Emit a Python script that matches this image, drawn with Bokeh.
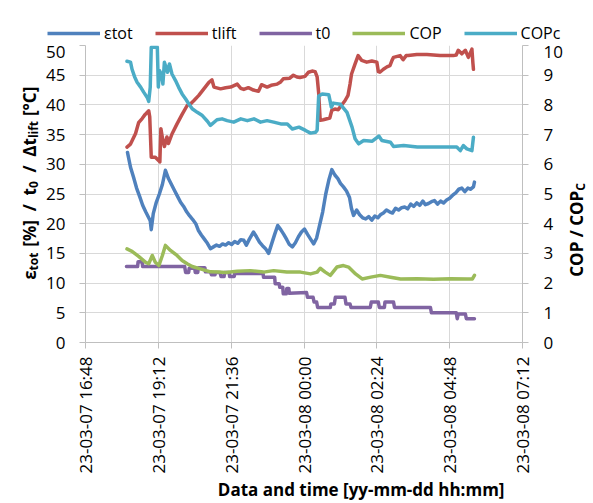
from math import pi
import pandas as pd
from bokeh.plotting import figure
from bokeh.layouts import column, row
from bokeh.models import Range1d, LinearAxis, FixedTicker, Legend, LegendItem, Label
from bokeh.embed import file_html
from bokeh.resources import INLINE

# ---------------- data ----------------
tick_times = ["2023-03-07 16:48", "2023-03-07 19:12", "2023-03-07 21:36", "2023-03-08 00:00",
              "2023-03-08 02:24", "2023-03-08 04:48", "2023-03-08 07:12"]
tick_labels = ["23-03-07 16:48", "23-03-07 19:12", "23-03-07 21:36", "23-03-08 00:00",
               "23-03-08 02:24", "23-03-08 04:48", "23-03-08 07:12"]
left_ticks = [0, 5, 10, 15, 20, 25, 30, 35, 40, 45, 50]
right_ticks = [0, 1, 2, 3, 4, 5, 6, 7, 8, 9, 10]
series_names = ["εtot", "tlift", "t0", "COP", "COPc"]
series_colors = ["#4F81BD", "#C0504D", "#8064A2", "#9BBB59", "#4BACC6"]

eps_time = ["18:11","18:17","18:23","18:29","18:35","18:41","18:47","18:53","18:56","18:58","19:02","19:08",
            "19:14","19:20","19:26","19:32","19:38","19:44","19:50","19:56","20:02","20:08","20:14","20:20",
            "20:26","20:31","20:37","20:43","20:49","20:55","21:01","21:07","21:13","21:19","21:25","21:31",
            "21:37","21:43","21:49","21:55","22:01","22:06","22:12","22:20","22:26","22:32","22:38","22:44",
            "22:50","22:56","23:02","23:08","23:14","23:20","23:26","23:31","23:37","23:43","23:49","23:55",
            "00:01","00:07","00:13","00:19","00:25","00:31","00:37","00:43","00:49","00:55","01:01","01:07",
            "01:12","01:18","01:24","01:30","01:34","01:38","01:44","01:50","01:56","02:02","02:08","02:14",
            "02:20","02:26","02:31","02:37","02:43","02:49","02:55","03:01","03:07","03:13","03:19","03:25",
            "03:31","03:37","03:43","03:49","03:55","04:00","04:06","04:12","04:18","04:24","04:30","04:36",
            "04:42","04:48","04:54","05:00","05:06","05:12","05:18","05:24","05:29","05:35","05:37"]
eps_val = [32.0,29.5,27.8,26.0,24.6,23.1,22.0,21.0,20.5,19.0,21.7,23.6,
           25.0,26.6,29.0,27.6,26.6,25.6,24.6,23.6,22.9,22.0,21.3,20.7,
           20.0,18.9,18.1,17.4,16.7,15.8,16.1,16.4,16.2,16.6,16.4,16.8,
           16.5,17.0,16.7,17.3,17.2,16.4,17.4,18.6,17.8,16.9,16.3,15.8,
           15.0,16.6,18.2,19.7,19.0,18.2,17.3,16.5,16.1,16.8,17.8,18.6,
           19.1,18.2,17.4,16.6,17.6,19.8,22.0,25.0,27.3,29.1,28.2,27.6,
           26.8,26.2,25.5,24.4,22.5,21.4,22.3,21.5,21.0,20.8,21.2,20.6,
           21.3,21.0,21.5,21.8,22.3,22.0,21.8,22.6,22.3,22.7,22.8,22.5,
           23.3,22.9,23.5,23.1,23.8,23.2,23.4,23.7,23.9,23.3,23.8,23.5,
           24.0,24.3,24.8,25.2,25.8,26.0,25.4,26.0,25.8,26.2,27.0]

tlift_time = ["18:10","18:17","18:27","18:33","18:40","18:46","18:53","18:55","18:58","19:06","19:13","19:15",
              "19:17","19:21","19:24","19:29","19:32","19:39","19:49","19:59","20:09","20:16","20:22","20:32",
              "20:42","20:52","20:58","21:02","21:15","21:25","21:35","21:48","21:55","22:01","22:10","22:20",
              "22:30","22:36","22:47","22:55","23:07","23:13","23:19","23:32","23:39","23:46","23:52","00:02",
              "00:09","00:16","00:22","00:26","00:29","00:32","00:38","00:51","00:55","01:01","01:08","01:11",
              "01:21","01:27","01:31","01:34","01:41","01:47","01:54","02:04","02:14","02:24","02:27","02:30",
              "02:37","02:44","02:50","02:54","02:57","03:10","03:16","03:22","03:26","03:43","04:03","04:29",
              "04:55","05:01","05:05","05:12","05:19","05:25","05:32","05:34","05:35"]
tlift_val = [32.9,33.4,35.2,37.0,37.7,38.4,39.0,38.0,31.2,31.2,30.6,30.4,
             36.0,34.0,33.0,34.6,33.5,35.1,36.8,38.4,39.9,40.2,40.7,41.6,
             42.7,43.8,44.2,43.0,42.7,42.9,43.0,43.5,42.8,42.6,42.9,42.5,
             42.3,43.4,43.0,43.3,43.5,43.8,44.4,44.5,45.0,44.7,44.6,44.8,
             45.5,45.7,45.6,44.7,42.0,37.4,37.5,37.8,39.1,39.3,39.2,39.6,
             40.7,41.6,43.5,45.2,46.9,48.3,47.5,47.2,47.4,47.2,45.6,45.5,
             46.0,46.4,46.6,47.5,48.0,48.3,47.6,48.3,48.3,48.5,48.5,48.3,
             48.3,48.4,49.2,48.6,49.2,48.0,49.4,47.0,46.0]

t0_time = ["18:09","18:31","18:32","18:40","18:41","20:04","20:06","20:12","20:13","20:24","20:25","20:30",
           "20:31","20:44","20:45","20:55","20:57","21:04","21:05","21:14","21:16","21:22","21:23","21:32",
           "21:33","21:42","21:43","22:39","22:40","23:02","23:03","23:11","23:12","23:18","23:19","23:25",
           "23:26","23:30","23:31","00:05","00:07","00:18","00:20","00:25","00:27","00:52","00:53","01:00",
           "01:02","01:21","01:23","01:31","01:33","02:11","02:13","02:27","02:29","02:39","02:40","02:57",
           "02:59","04:10","04:12","05:01","05:03","05:05","05:19","05:21","05:37"]
t0_val = [12.8,12.8,13.6,13.6,12.8,12.8,11.8,11.8,12.5,12.5,11.8,11.8,
          12.6,12.6,11.9,11.9,11.4,11.4,11.8,11.8,11.1,11.1,11.8,11.8,
          11.1,11.1,11.6,11.6,11.0,11.0,9.9,9.9,9.3,9.3,8.2,8.2,
          9.1,9.1,8.3,8.4,7.6,7.6,6.8,6.8,5.9,5.9,6.5,6.5,
          7.6,7.6,6.5,6.5,5.9,5.9,6.8,6.8,5.9,5.9,6.8,6.8,
          5.9,5.9,5.0,5.0,4.0,4.8,4.8,4.0,4.0]

cop_time = ["18:10","18:20","18:33","18:47","18:53","19:00","19:06","19:13","19:20","19:26","19:36","19:49",
            "19:59","20:09","20:19","20:35","20:55","21:11","21:25","21:48","22:14","22:40","23:00","23:26",
            "23:53","00:13","00:26","00:32","00:42","00:52","01:05","01:18","01:28","01:42","01:55","02:12",
            "02:31","02:51","03:11","03:44","04:16","04:50","05:23","05:33","05:37"]
cop_val = [3.15,3.07,2.90,2.70,2.65,2.93,2.70,2.59,2.93,3.27,3.10,2.93,
           2.76,2.65,2.56,2.48,2.38,2.37,2.36,2.40,2.42,2.37,2.42,2.37,
           2.37,2.31,2.37,2.50,2.37,2.26,2.54,2.59,2.54,2.31,2.14,2.20,
           2.26,2.20,2.14,2.15,2.13,2.15,2.14,2.14,2.26]

copc_time = ["18:10","18:17","18:20","18:25","18:30","18:37","18:43","18:50","18:53","18:56","18:58","19:10",
             "19:12","19:14","19:18","19:21","19:24","19:30","19:34","19:39","19:46","19:52","19:59","20:06",
             "20:12","20:19","20:29","20:39","20:49","20:55","21:08","21:18","21:28","21:41","21:55","22:08",
             "22:21","22:34","22:47","23:00","23:14","23:27","23:37","23:50","00:03","00:13","00:23","00:26",
             "00:29","00:36","00:49","00:52","00:54","00:58","01:12","01:25","01:35","01:41","01:48","01:58",
             "02:15","02:28","02:34","02:51","02:57","03:17","03:44","04:16","04:42","05:02","05:09","05:15",
             "05:22","05:32","05:35"]
copc_val = [9.47,9.44,9.20,8.95,8.76,8.60,8.43,8.25,8.12,8.60,9.94,9.94,
            8.60,9.16,9.04,8.70,9.44,9.10,9.38,9.04,8.82,8.60,8.37,8.20,
            8.04,7.87,7.75,7.64,7.45,7.31,7.50,7.53,7.47,7.42,7.53,7.47,
            7.53,7.42,7.47,7.42,7.36,7.36,7.19,7.25,7.14,7.05,7.08,7.15,
            8.30,8.37,8.34,8.10,7.92,8.06,8.02,7.75,7.25,6.86,6.69,6.80,
            6.78,6.95,6.80,6.74,6.60,6.63,6.58,6.58,6.58,6.58,6.46,6.63,
            6.52,6.46,6.91]

x_title = ["Data and time [yy-mm-dd hh:mm]"]
x_title_pos = ["2023-03-08 01:53"]

# ---------------- helpers ----------------
def to_dt(hm_list):
    out = []
    for s in hm_list:
        h = int(s.split(":")[0])
        day = "2023-03-07" if h >= 12 else "2023-03-08"
        out.append(pd.Timestamp(f"{day} {s}"))
    return out

def ms(t):
    return int(pd.Timestamp(t).value // 10**6)

FONT = "Open Sans"
W, H = 593, 503
TOP = 45            # legend strip height
LEFT_W, RIGHT_W = 40, 28
MAIN_H = H - TOP
MAIN_W = W - LEFT_W - RIGHT_W

def blank(width, height):
    f = figure(width=width, height=height, x_range=Range1d(0, 1), y_range=Range1d(0, 1),
               output_backend="svg", toolbar_location=None, min_border=0,
               x_axis_location=None, y_axis_location=None)
    f.outline_line_color = None
    f.xgrid.visible = False
    f.ygrid.visible = False
    return f

series = [(eps_time, eps_val, "default"), (tlift_time, tlift_val, "default"), (t0_time, t0_val, "default"),
          (cop_time, cop_val, "cop"), (copc_time, copc_val, "cop")]

# ---------------- main plot ----------------
tick_ms = [ms(t) for t in tick_times]
p = figure(width=MAIN_W, height=MAIN_H, x_axis_type="datetime", output_backend="svg", toolbar_location=None,
           x_range=Range1d(pd.Timestamp(tick_times[0]), pd.Timestamp(tick_times[-1])),
           y_range=Range1d(0, 50),
           min_border_left=85 - LEFT_W, min_border_right=MAIN_W + LEFT_W - 522,
           min_border_top=0, min_border_bottom=161)
p.extra_y_ranges = {"cop": Range1d(0, 10)}
p.outline_line_color = None

xa = p.xaxis[0]
xa.ticker = FixedTicker(ticks=tick_ms)
xa.major_label_overrides = dict(zip(tick_ms, tick_labels))
xa.major_label_orientation = pi / 2
xa.major_label_standoff = 8

ya = p.yaxis[0]
ya.ticker = FixedTicker(ticks=left_ticks)
ya.major_label_standoff = 14

ra = LinearAxis(y_range_name="cop", ticker=FixedTicker(ticks=right_ticks))
ra.major_label_standoff = 15
p.add_layout(ra, "right")

for ax in (xa, ya, ra):
    ax.axis_line_color = "#BFBFBF"
    ax.major_tick_line_color = "#BFBFBF"
    ax.major_tick_in = 0
    ax.major_tick_out = 6
    ax.minor_tick_out = 0
    ax.minor_tick_in = 0
    ax.major_label_text_font = FONT
    ax.major_label_text_font_size = "17px"
    ax.major_label_text_color = "#000000"

p.xgrid.grid_line_color = "#D9D9D9"
p.ygrid.grid_line_color = "#D9D9D9"

LW = 3.5
line_kw = dict(line_width=LW, line_join="round", line_cap="round")
for (tt, vv, rng), c in zip(series, series_colors):
    p.line(to_dt(tt), vv, line_color=c, y_range_name=rng, **line_kw)

# x-axis title as the single tick label of a bare axis below the date axis
xt_ticks = [ms(t) for t in x_title_pos]
xt = LinearAxis(ticker=FixedTicker(ticks=xt_ticks), major_label_overrides=dict(zip(xt_ticks, x_title)))
xt.axis_line_color = None
xt.major_tick_line_color = None
xt.minor_tick_line_color = None
xt.major_tick_out = 0
xt.minor_tick_out = 0
xt.major_label_standoff = 1
xt.major_label_text_font = FONT
xt.major_label_text_font_size = "17px"
xt.major_label_text_font_style = "bold"
xt.major_label_text_color = "#000000"
p.add_layout(xt, "below")

# ---------------- legend strip ----------------
# the same series drawn into the strip (their data lies outside its 0..1 ranges, so only the legend shows)
lg = blank(W, TOP)
strip_lines = [lg.line(to_dt(tt), vv, line_color=c, line_width=LW) for (tt, vv, _), c in zip(series, series_colors)]
legend = Legend(items=[LegendItem(label=n, renderers=[r]) for n, r in zip(series_names, strip_lines)],
                orientation="horizontal", location=(47, 1),
                glyph_width=53, glyph_height=20, label_height=20, label_width=10,
                label_standoff=4, spacing=22, padding=0, margin=0,
                border_line_color=None, background_fill_alpha=0,
                label_text_font=FONT, label_text_font_size="16px", label_text_color="#000000")
lg.add_layout(legend, "center")

# ---------------- axis titles (rotated text with subscripts) ----------------
def txt(f, text, x, y, size, align):
    f.add_layout(Label(x=x, y=y, x_units="screen", y_units="screen", text=text, angle=pi / 2,
                       text_font=FONT, text_font_size=size, text_font_style="bold",
                       text_align=align, text_baseline="alphabetic", text_color="#000000"))

BIG, SUB = "17px", "12px"
# the side strips share the main plot's frame height (45..342 on the page); y is measured up from 342
lf = blank(LEFT_W, MAIN_H)
bx, sx = 29, 32.5
J1, J2, J3 = 72.1, 154.5, 204.4
txt(lf, "ε", bx, J1, BIG, "right")
txt(lf, "tot", sx, J1, SUB, "left")
txt(lf, "\u00a0[%]\u00a0\u00a0/\u00a0\u00a0t", bx, J2, BIG, "right")
txt(lf, "0", sx, J2, SUB, "left")
txt(lf, "\u00a0\u00a0/\u00a0\u00a0Δt", bx, J3, BIG, "right")
txt(lf, "lift", sx, J3, SUB, "left")
txt(lf, "\u00a0[°C]", bx, J3 + 17.6, BIG, "left")

rf = blank(RIGHT_W, MAIN_H)
JR = 151.7
txt(rf, "COP\u00a0/\u00a0COP", 11, JR, BIG, "right")
txt(rf, "C", 15, JR, SUB, "left")

layout = column(lg, row(lf, p, rf))
open("out.html", "w").write(file_html(layout, INLINE))
